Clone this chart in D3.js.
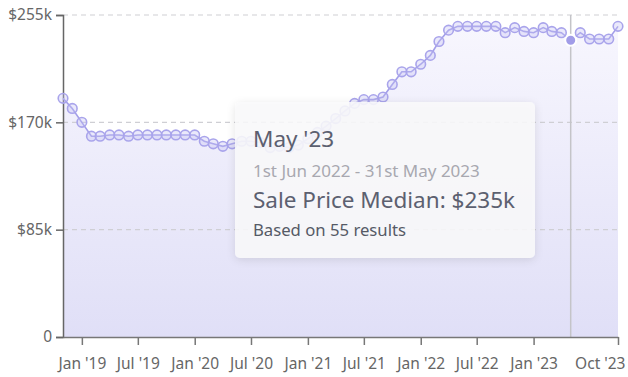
<!DOCTYPE html>
<html>
<head>
<meta charset="utf-8">
<script src="https://cdn.jsdelivr.net/npm/d3@7"></script>
<style>
  html, body { margin: 0; padding: 0; background: #fff; }
  svg { display: block; font-family: "Noto Sans", "Open Sans", sans-serif; }
</style>
</head>
<body>
<div id="chart"></div>
<script>
// mesi (uno per punto) e mediane in $k
const months = [
  "2018-11","2018-12","2019-01","2019-02","2019-03","2019-04","2019-05","2019-06","2019-07","2019-08",
  "2019-09","2019-10","2019-11","2019-12","2020-01","2020-02","2020-03","2020-04","2020-05","2020-06",
  "2020-07","2020-08","2020-09","2020-10","2020-11","2020-12","2021-01","2021-02","2021-03","2021-04",
  "2021-05","2021-06","2021-07","2021-08","2021-09","2021-10","2021-11","2021-12","2022-01","2022-02",
  "2022-03","2022-04","2022-05","2022-06","2022-07","2022-08","2022-09","2022-10","2022-11","2022-12",
  "2023-01","2023-02","2023-03","2023-04","2023-05","2023-06","2023-07","2023-08","2023-09","2023-10"
];
const medians = [
  189, 181, 170, 159, 159, 160, 160, 159, 160, 160,
  160, 160, 160, 160, 160, 155, 153, 151, 153, 155,
  155, 154, 150, 151, 150, 152, 157, 162, 167, 173,
  179, 185, 188, 188, 190, 200, 210, 210, 216, 223,
  234, 243, 246, 246, 246, 246, 246, 241, 245, 242,
  241, 245, 242, 241, 235, 241, 236, 236, 236, 246
];
const yTicks = [0, 85, 170, 255];
const yTickLabels = ["0", "$85k", "$170k", "$255k"];
const xTicks = ["2019-01","2019-07","2020-01","2020-07","2021-01","2021-07","2022-01","2022-07","2023-01","2023-10"];
const xTickLabels = ["Jan '19","Jul '19","Jan '20","Jul '20","Jan '21","Jul '21","Jan '22","Jul '22","Jan '23","Oct '23"];

const selectedMonth = "2023-05";
const tooltipLines = ["May '23", "1st Jun 2022 - 31st May 2023", "Sale Price Median: $235k", "Based on 55 results"];

const width = 628, height = 377;
const margin = { top: 15, right: 10, bottom: 40, left: 63 };
const parse = d3.timeParse("%Y-%m");

const data = months.map((m, i) => ({ date: parse(m), value: medians[i] }));

const svg = d3.select("#chart").append("svg")
    .attr("width", width)
    .attr("height", height);

const x = d3.scaleTime()
    .domain(d3.extent(data, d => d.date))
    .range([margin.left, width - margin.right]);
const y = d3.scaleLinear()
    .domain([0, 255])
    .range([height - margin.bottom, margin.top]);

const defs = svg.append("defs");
const grad = defs.append("linearGradient")
    .attr("id", "areaGrad")
    .attr("gradientUnits", "userSpaceOnUse")
    .attr("x1", 0).attr("x2", 0)
    .attr("y1", y(255)).attr("y2", y(0));
grad.append("stop").attr("offset", "0%").attr("stop-color", "#f8f7fe");
grad.append("stop").attr("offset", "100%").attr("stop-color", "#e0dff7");

const shadow = defs.append("filter").attr("id", "shadow")
    .attr("x", "-10%").attr("y", "-10%").attr("width", "120%").attr("height", "130%");
shadow.append("feDropShadow")
    .attr("dx", 0).attr("dy", 2).attr("stdDeviation", 4)
    .attr("flood-color", "#000").attr("flood-opacity", 0.12);

// area
svg.append("path")
    .datum(data)
    .attr("fill", "url(#areaGrad)")
    .attr("d", d3.area().x(d => x(d.date)).y0(y(0)).y1(d => y(d.value)));

// griglia tratteggiata
svg.append("g")
    .selectAll("line")
    .data(yTicks.filter(t => t > 0))
    .join("line")
    .attr("x1", margin.left)
    .attr("x2", width - margin.right)
    .attr("y1", d => y(d))
    .attr("y2", d => y(d))
    .attr("stroke", "#cfcfd4")
    .attr("stroke-width", 1.2)
    .attr("stroke-dasharray", "5,4");

// linea verticale del cursore
svg.append("line")
    .attr("x1", x(parse(selectedMonth)))
    .attr("x2", x(parse(selectedMonth)))
    .attr("y1", y(255))
    .attr("y2", y(0))
    .attr("stroke", "#c4c4c8")
    .attr("stroke-width", 1.5);

// asse y
const yAxis = svg.append("g")
    .attr("transform", `translate(${margin.left},0)`)
    .call(d3.axisLeft(y).tickValues(yTicks).tickFormat((d, i) => yTickLabels[i]).tickSize(7).tickPadding(4));
yAxis.select(".domain").attr("stroke", "#666").attr("stroke-width", 1.5);
yAxis.selectAll(".tick line").attr("stroke", "#666").attr("stroke-width", 1.5);
yAxis.selectAll(".tick text").attr("fill", "#666").attr("font-size", 15.5).attr("font-family", "Noto Sans");

// asse x
const xAxis = svg.append("g")
    .attr("transform", `translate(0,${y(0)})`)
    .call(d3.axisBottom(x).tickValues(xTicks.map(parse)).tickFormat((d, i) => xTickLabels[i]).tickSize(8).tickSizeOuter(0).tickPadding(13));
xAxis.select(".domain").attr("stroke", "#777").attr("stroke-width", 1.5);
xAxis.selectAll(".tick line").attr("stroke", "#777").attr("stroke-width", 1.5);
xAxis.selectAll(".tick text").attr("fill", "#666").attr("font-size", 15.5).attr("font-family", "Noto Sans");
// l'ultima etichetta resta dentro il bordo
xAxis.selectAll(".tick text").filter((d, i) => i === xTicks.length - 1)
    .attr("text-anchor", "end")
    .attr("dx", 7);

// linea
svg.append("path")
    .datum(data)
    .attr("fill", "none")
    .attr("stroke", "#a39ee9")
    .attr("stroke-width", 1.6)
    .attr("d", d3.line().x(d => x(d.date)).y(d => y(d.value)));

// punti
svg.append("g")
    .selectAll("circle")
    .data(data.filter(d => d3.timeFormat("%Y-%m")(d.date) !== selectedMonth))
    .join("circle")
    .attr("cx", d => x(d.date))
    .attr("cy", d => y(d.value))
    .attr("r", 4.8)
    .attr("fill", "rgba(196,193,243,0.35)")
    .attr("stroke", "#a9a4eb")
    .attr("stroke-width", 1.6);

const sel = data.find(d => d3.timeFormat("%Y-%m")(d.date) === selectedMonth);
svg.append("circle")
    .attr("cx", x(sel.date))
    .attr("cy", y(sel.value))
    .attr("r", 5.5)
    .attr("fill", "#a19ce8")
    .attr("stroke", "#fff")
    .attr("stroke-width", 2);

// tooltip
const tip = svg.append("g").attr("transform", "translate(235,102)");
tip.append("rect")
    .attr("width", 300)
    .attr("height", 156)
    .attr("rx", 5)
    .attr("fill", "rgba(249,249,251,0.88)")
    .attr("filter", "url(#shadow)");
const tipStyle = [
  { y: 45, size: 22.5, color: "#5c6070" },
  { y: 75, size: 17, color: "#a8a8b0" },
  { y: 106, size: 22.5, color: "#5c6070" },
  { y: 134, size: 16.7, color: "#555a66" }
];
tip.selectAll("text")
    .data(tooltipLines)
    .join("text")
    .attr("x", 18)
    .attr("y", (d, i) => tipStyle[i].y)
    .attr("font-size", (d, i) => tipStyle[i].size)
    .attr("fill", (d, i) => tipStyle[i].color)
    .text(d => d);
</script>
</body>
</html>
